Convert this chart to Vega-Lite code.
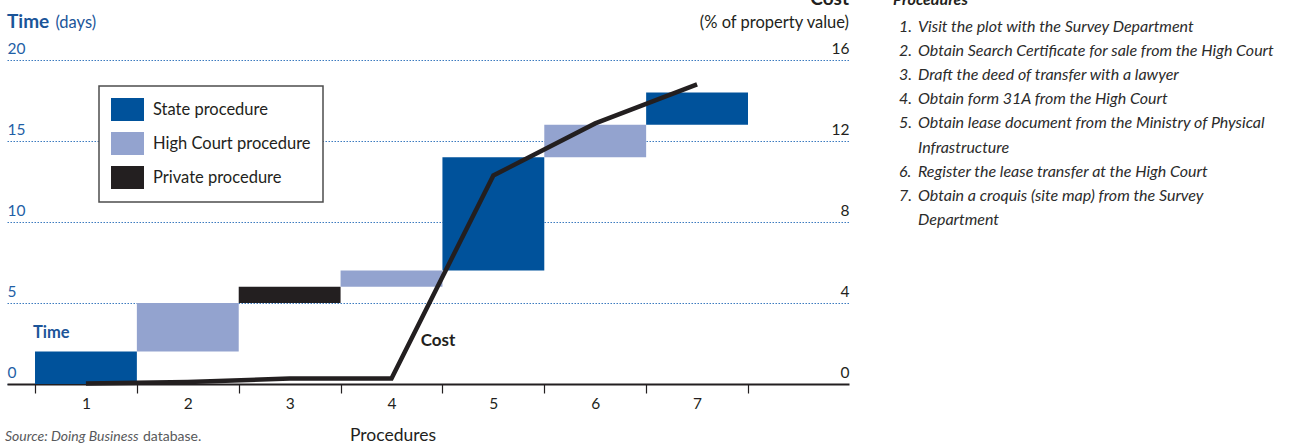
{
  "$schema": "https://vega.github.io/schema/vega-lite/v6.json",
  "width": 842,
  "height": 324,
  "autosize": {"type": "none"},
  "padding": {"left": 7, "top": 60, "right": 449, "bottom": 64},
  "background": "white",
  "config": {
    "view": {"stroke": null},
    "font": "Lato",
    "text": {"font": "Lato"},
    "axis": {"labelFont": "Lato", "titleFont": "Lato"},
    "legend": {"labelFont": "Lato", "strokeWidth": 1.5}
  },
  "datasets": {
    "bars": [
      {"procedure": 1, "type": "State procedure", "start": 0, "end": 2},
      {"procedure": 2, "type": "High Court procedure", "start": 2, "end": 5},
      {"procedure": 3, "type": "Private procedure", "start": 5, "end": 6},
      {"procedure": 4, "type": "High Court procedure", "start": 6, "end": 7},
      {"procedure": 5, "type": "State procedure", "start": 7, "end": 14},
      {"procedure": 6, "type": "High Court procedure", "start": 14, "end": 16},
      {"procedure": 7, "type": "State procedure", "start": 16, "end": 18}
    ],
    "cost": [
      {"procedure": 1, "cost": 0.03},
      {"procedure": 2, "cost": 0.1},
      {"procedure": 3, "cost": 0.27},
      {"procedure": 4, "cost": 0.27},
      {"procedure": 5, "cost": 10.3},
      {"procedure": 6, "cost": 12.87},
      {"procedure": 7, "cost": 14.8}
    ],
    "list": [
      {"line": 1, "num": "1.", "text": "Visit the plot with the Survey Department"},
      {"line": 2, "num": "2.", "text": "Obtain Search Certificate for sale from the High Court"},
      {"line": 3, "num": "3.", "text": "Draft the deed of transfer with a lawyer"},
      {"line": 4, "num": "4.", "text": "Obtain form 31A from the High Court"},
      {"line": 5, "num": "5.", "text": "Obtain lease document from the Ministry of Physical"},
      {"line": 6, "num": "", "text": "Infrastructure"},
      {"line": 7, "num": "6.", "text": "Register the lease transfer at the High Court"},
      {"line": 8, "num": "7.", "text": "Obtain a croquis (site map) from the Survey"},
      {"line": 9, "num": "", "text": "Department"}
    ]
  },
  "layer": [
    {
      "layer": [
        {
          "data": {"name": "bars"},
          "mark": {"type": "bar", "width": 101.86},
          "encoding": {
            "x": {
              "field": "procedure",
              "type": "quantitative",
              "scale": {"domain": [0.225, 8.4916], "nice": false, "zero": false, "padding": 0},
              "axis": {
                "values": [1, 2, 3, 4, 5, 6, 7, 8],
                "tickOffset": -50.93,
                "labelOffset": 50.93,
                "labelExpr": "datum.value > 7 ? '' : format(datum.value, 'd')",
                "grid": false,
                "domainColor": "#231F20",
                "domainWidth": 2.2,
                "tickColor": "#231F20",
                "tickSize": 9,
                "tickWidth": 1.2,
                "labelFontSize": 15.5,
                "labelColor": "#231F20",
                "labelPadding": 3,
                "labelFlush": false,
                "labelOverlap": false,
                "title": "Procedures",
                "titleFontSize": 17.5,
                "titleFontWeight": "normal",
                "titleColor": "#231F20",
                "titleX": 385.5,
                "titleY": 56,
                "titleAlign": "center",
                "titleBaseline": "alphabetic"
              }
            },
            "y": {
              "field": "start",
              "type": "quantitative",
              "scale": {"domain": [0, 20], "nice": false},
              "axis": {
                "orient": "left",
                "values": [0, 5, 10, 15, 20],
                "grid": true,
                "gridColor": "#3C7BBF",
                "gridDash": [1.5, 1.5],
                "gridWidth": 1.2,
                "domain": false,
                "ticks": false,
                "tickSize": 0,
                "labelAlign": "left",
                "labelPadding": 0,
                "labelBaseline": "alphabetic",
                "labelOffset": -6.5,
                "labelFontSize": 15.5,
                "labelColor": "#1F5FA6",
                "title": null
              }
            },
            "y2": {"field": "end"},
            "color": {
              "field": "type",
              "type": "nominal",
              "scale": {
                "domain": ["State procedure", "High Court procedure", "Private procedure"],
                "range": ["#00529B", "#93A3CF", "#231F20"]
              },
              "legend": {
                "orient": "none",
                "legendX": 92,
                "legendY": 26,
                "title": null,
                "direction": "vertical",
                "symbolType": "M-1,-1H1V0.4H-1Z",
                "symbolSize": 1089,
                "symbolStrokeWidth": 0,
                "symbolOpacity": 1,
                "labelFontSize": 16.5,
                "labelColor": "#231F20",
                "labelBaseline": "alphabetic",
                "labelOffset": 9,
                "rowPadding": 10,
                "padding": 12,
                "strokeColor": "#4D4D4D",
                "fillColor": "white",
                "labelLimit": 300
              }
            }
          }
        },
        {
          "data": {"values": [{}]},
          "mark": {"type": "text", "text": "Time", "align": "left", "baseline": "alphabetic", "fontSize": 19, "fontWeight": "bold", "color": "#1B5599"},
          "encoding": {"x": {"datum": 0.225}, "y": {"datum": 21.98}}
        },
        {
          "data": {"values": [{}]},
          "mark": {"type": "text", "text": "(days)", "align": "left", "baseline": "alphabetic", "fontSize": 16.5, "color": "#1B5599"},
          "encoding": {"x": {"datum": 0.7}, "y": {"datum": 21.98}}
        },
        {
          "data": {"values": [{}]},
          "mark": {"type": "text", "text": "Cost", "align": "right", "baseline": "alphabetic", "fontSize": 19, "fontWeight": "bold", "color": "#231F20"},
          "encoding": {"x": {"datum": 8.4916}, "y": {"datum": 23.4}}
        },
        {
          "data": {"values": [{}]},
          "mark": {"type": "text", "text": "(% of property value)", "align": "right", "baseline": "alphabetic", "fontSize": 16.5, "color": "#231F20"},
          "encoding": {"x": {"datum": 8.4916}, "y": {"datum": 21.98}}
        },
        {
          "data": {"values": [{}]},
          "mark": {"type": "text", "text": "Time", "align": "left", "baseline": "alphabetic", "fontSize": 16.5, "fontWeight": "bold", "color": "#1B5599"},
          "encoding": {"x": {"datum": 0.48}, "y": {"datum": 2.84}}
        },
        {
          "data": {"values": [{}]},
          "mark": {"type": "text", "text": "Cost", "align": "left", "baseline": "alphabetic", "fontSize": 17, "fontWeight": "bold", "color": "#231F20"},
          "encoding": {"x": {"datum": 4.287}, "y": {"datum": 2.35}}
        },
        {
          "data": {"values": [{}]},
          "mark": {"type": "text", "text": "Source: Doing Business", "align": "left", "baseline": "alphabetic", "fontSize": 14, "fontStyle": "italic", "color": "#58595B"},
          "encoding": {"x": {"datum": 0.205}, "y": {"datum": -3.52}}
        },
        {
          "data": {"values": [{}]},
          "mark": {"type": "text", "text": "database.", "align": "left", "baseline": "alphabetic", "fontSize": 14, "color": "#58595B"},
          "encoding": {"x": {"datum": 1.56}, "y": {"datum": -3.52}}
        }
      ]
    },
    {
      "data": {"name": "cost"},
      "mark": {"type": "line", "color": "#231F20", "strokeWidth": 4.5, "strokeJoin": "miter"},
      "encoding": {
        "x": {"field": "procedure", "type": "quantitative", "scale": {"domain": [0.225, 8.4916], "nice": false, "zero": false, "padding": 0}},
        "y": {
          "field": "cost",
          "type": "quantitative",
          "scale": {"domain": [0, 16], "nice": false},
          "axis": {
            "orient": "right",
            "values": [0, 4, 8, 12, 16],
            "grid": false,
            "domain": false,
            "ticks": false,
            "tickSize": 0,
            "labelAlign": "right",
            "labelPadding": 0,
            "labelBaseline": "alphabetic",
            "labelOffset": -6.5,
            "labelFontSize": 15.5,
            "labelColor": "#231F20",
            "title": null
          }
        }
      }
    },
    {
      "layer": [
        {
          "data": {"name": "list"},
          "mark": {"type": "text", "align": "left", "baseline": "middle", "fontSize": 16, "fontStyle": "italic", "color": "#2B2B2B"},
          "encoding": {
            "x": {"datum": 8.982},
            "y": {"field": "line", "type": "quantitative", "scale": {"domain": [2.362, 15.828], "reverse": true, "nice": false, "zero": false}, "axis": null},
            "text": {"field": "num"}
          }
        },
        {
          "data": {"name": "list"},
          "mark": {"type": "text", "align": "left", "baseline": "middle", "fontSize": 16, "fontStyle": "italic", "color": "#2B2B2B"},
          "encoding": {
            "x": {"datum": 9.169},
            "y": {"field": "line", "type": "quantitative", "axis": null},
            "text": {"field": "text"}
          }
        },
        {
          "data": {"values": [{}]},
          "mark": {"type": "text", "text": "Procedures", "align": "left", "baseline": "alphabetic", "fontSize": 16, "fontStyle": "italic", "fontWeight": "bold", "color": "#231F20"},
          "encoding": {"x": {"datum": 8.923}, "y": {"datum": 0.08}}
        }
      ]
    }
  ],
  "resolve": {"scale": {"y": "independent"}}
}
